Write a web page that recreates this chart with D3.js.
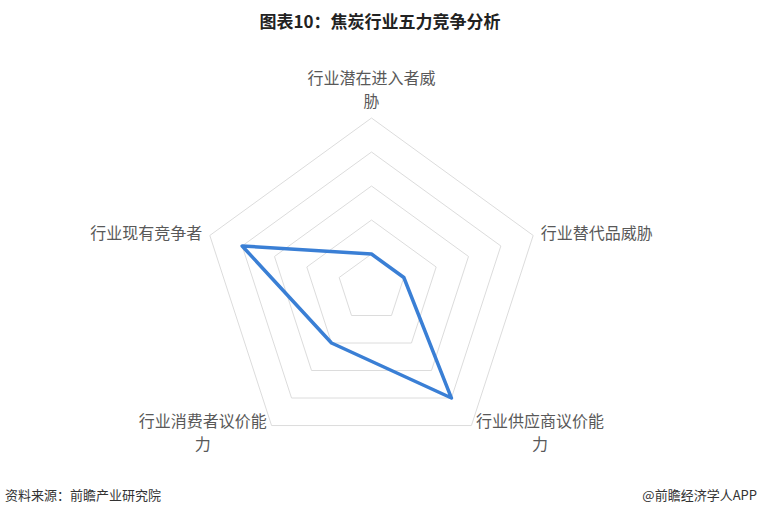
<!DOCTYPE html>
<html>
<head>
<meta charset="utf-8">
<script src="https://cdn.jsdelivr.net/npm/d3@7/dist/d3.min.js"></script>
<style>
  html, body { margin: 0; padding: 0; background: #fff; }
  svg { display: block; font-family: "Noto Sans CJK SC", "Noto Sans", sans-serif; }
</style>
</head>
<body>
<svg id="chart" width="760" height="515"></svg>
<script>
const indicators = ["行业潜在进入者威胁", "行业替代品威胁", "行业供应商议价能力", "行业消费者议价能力", "行业现有竞争者"];
const values = [1, 1, 4, 2, 4];
const maxValue = 5;
const ringLevels = [1, 2, 3, 4, 5];
const titleText = "图表10：焦炭行业五力竞争分析";
const sourceText = "资料来源：前瞻产业研究院";
const creditText = "@前瞻经济学人APP";

const svg = d3.select("#chart");
const W = 760, H = 515;
const cx = 371.5, cy = 288, R = 170;

const r = d3.scaleLinear().domain([0, maxValue]).range([0, R]);
const angle = d3.scaleLinear().domain([0, indicators.length]).range([0, 2 * Math.PI]);

function pt(i, v) {
  const a = angle(i);
  return [cx + r(v) * Math.sin(a), cy - r(v) * Math.cos(a)];
}

// title
svg.append("text")
  .attr("x", W / 2).attr("y", 20)
  .attr("text-anchor", "middle").attr("dominant-baseline", "central")
  .attr("font-size", 17).attr("font-weight", "bold").attr("fill", "#222")
  .text(titleText);

// rings
const lineGen = d3.line().curve(d3.curveLinearClosed);
svg.append("g").selectAll("path").data(ringLevels).join("path")
  .attr("d", lv => lineGen(indicators.map((_, i) => pt(i, lv))))
  .attr("fill", "none").attr("stroke", "#dcdcdc").attr("stroke-width", 1);

// data line
svg.append("path")
  .attr("d", lineGen(values.map((v, i) => pt(i, v))))
  .attr("fill", "none").attr("stroke", "#3a7fd5").attr("stroke-width", 3.5)
  .attr("stroke-linejoin", "round");

// labels
const fs = 16, lh = 23, perLine = 8, gap = 8;
const lg = svg.append("g").attr("font-size", fs).attr("fill", "#595959");
indicators.forEach((name, i) => {
  const a = angle(i);
  const dx = Math.sin(a), dy = -Math.cos(a);
  const [vx, vy] = pt(i, maxValue);
  const px = vx + gap * dx, py = vy + gap * dy;
  const lines = [];
  for (let k = 0; k < name.length; k += perLine) lines.push(name.slice(k, k + perLine));
  const bw = d3.max(lines, l => l.length) * fs;
  let bcx;
  if (Math.abs(dx) < 0.1) bcx = px;
  else if (dx > 0) bcx = px + bw / 2;
  else bcx = px - bw / 2;
  const n = lines.length;
  let firstY;
  if (Math.abs(dx) < 0.1 && dy < 0) firstY = py - (n - 1) * lh - 10;
  else firstY = py - (n - 1) / 2 * lh - 1;
  const t = lg.append("text")
    .attr("text-anchor", "middle").attr("dominant-baseline", "central");
  lines.forEach((l, k) => {
    t.append("tspan")
      .attr("x", bcx).attr("y", firstY + k * lh)
      .attr("dominant-baseline", "central")
      .text(l);
  });
});

// footer
svg.append("text")
  .attr("x", 5).attr("y", 494).attr("dominant-baseline", "central")
  .attr("font-size", 13).attr("fill", "#333").text(sourceText);
svg.append("text")
  .attr("x", 757).attr("y", 494).attr("dominant-baseline", "central").attr("text-anchor", "end")
  .attr("font-size", 13).attr("fill", "#333").text(creditText);
</script>
</body>
</html>
